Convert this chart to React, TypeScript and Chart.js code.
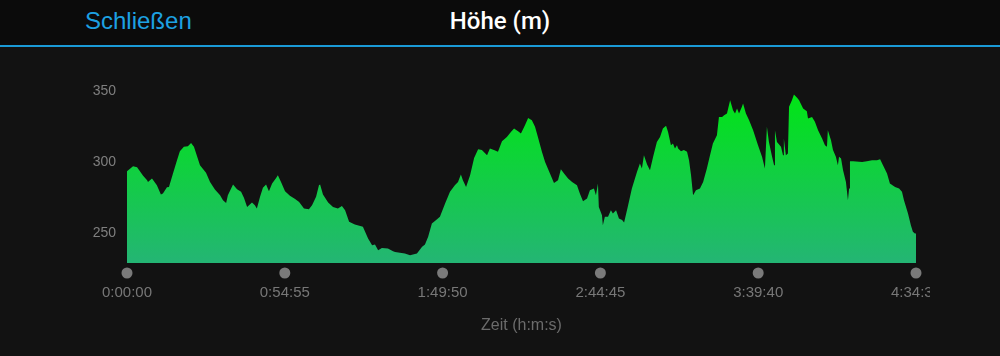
import React, { useEffect, useRef } from "react";
import { Chart, registerables } from "chart.js";

Chart.register(...registerables);

// time in minutes since start
const timeMin = [
  0, 2.1, 3.5, 4.5, 5.6, 7.0, 7.3, 8.7, 10.4, 11.8, 12.5, 13.9, 14.6, 16.0, 17.4, 18.4, 19.8, 21.2, 22.3, 23.3,
  25.4, 27.5, 28.9, 30.6, 32.4, 33.4, 34.5, 35.1, 36.9, 38.3, 39.7, 40.7, 41.8, 43.5, 44.5, 45.2, 46.3, 47.3, 48.4, 49.4,
  50.5, 51.9, 52.5, 53.6, 55.0, 56.7, 58.5, 59.9, 61.6, 63.3, 64.4, 65.8, 66.8, 67.2, 68.2, 70.0, 71.7, 73.4, 74.8, 75.9,
  77.3, 79.3, 82.1, 83.9, 85.3, 86.3, 87.4, 88.7, 90.8, 92.6, 93.3, 95.0, 96.7, 98.5, 100.9, 102.7, 103.7, 104.8, 106.1, 107.9,
  108.9, 110.7, 112.4, 114.1, 115.2, 116.2, 116.9, 118.0, 119.4, 120.8, 122.2, 123.5, 125.3, 126.3, 127.7, 129.1, 130.5, 132.2, 133.6, 134.7,
  136.1, 137.1, 138.5, 139.6, 140.9, 142.0, 143.0, 144.4, 145.5, 147.2, 148.6, 150.0, 151.0, 152.1, 153.5, 154.9, 156.6, 157.6, 158.7, 160.1,
  161.1, 162.5, 163.2, 163.9, 164.2, 165.3, 165.6, 166.3, 167.4, 168.4, 169.1, 170.2, 171.2, 172.3, 173.0, 174.4, 175.7, 177.5, 178.5, 179.2,
  179.9, 181.0, 182.0, 183.1, 184.4, 185.5, 186.5, 187.6, 188.3, 189.3, 190.0, 190.7, 191.4, 191.8, 192.8, 193.8, 194.9, 195.6, 196.3, 197.0,
  198.0, 199.4, 200.5, 201.8, 202.9, 203.9, 205.3, 206.0, 207.1, 207.8, 208.8, 209.9, 210.9, 211.6, 212.3, 213.0, 214.0, 214.4, 215.4, 216.5,
  217.9, 219.6, 221.0, 222.0, 222.7, 223.4, 224.5, 225.2, 225.5, 226.2, 227.6, 228.3, 228.6, 229.3, 230.0, 230.4, 231.4, 232.1, 233.2, 233.9,
  235.3, 236.6, 237.0, 238.4, 239.4, 240.5, 241.9, 242.9, 243.6, 243.9, 245.0, 245.7, 246.7, 247.4, 247.8, 248.5, 249.2, 250.2, 250.9, 251.3,
  251.6, 252.7, 255.8, 257.5, 259.3, 261.0, 262.1, 263.1, 264.5, 265.5, 267.3, 268.7, 269.7, 270.4, 271.8, 272.8, 273.5, 274.2, 274.58,
];

// elevation in metres
const elevation = [
  293.7, 297.2, 296.5, 293.7, 290.4, 287.3, 286.0, 288.5, 283.8, 277.3, 278.0, 282.4, 282.6, 292.0, 301.4, 307.7, 310.8, 311.3, 313.6, 310.8,
  297.9, 292.5, 286.1, 280.8, 276.8, 273.2, 271.3, 276.8, 284.3, 281.0, 279.1, 274.9, 268.5, 271.6, 269.7, 267.4, 275.6, 282.0, 284.3, 279.6,
  285.0, 288.9, 290.8, 286.1, 279.6, 276.3, 274.0, 272.0, 267.4, 266.9, 269.7, 275.6, 283.8, 284.3, 277.3, 271.6, 268.5, 267.4, 269.2, 266.2,
  258.0, 256.1, 254.5, 246.3, 241.5, 242.0, 238.0, 239.6, 239.2, 237.3, 236.8, 236.3, 235.7, 234.5, 235.7, 240.4, 242.0, 247.4, 256.8, 259.9,
  261.5, 270.9, 279.1, 283.8, 286.1, 291.3, 287.3, 282.6, 290.8, 303.0, 309.2, 308.5, 304.9, 309.6, 308.5, 307.3, 314.8, 317.8, 321.3, 323.7,
  321.8, 320.2, 326.1, 331.2, 329.6, 324.9, 317.8, 307.3, 300.2, 292.0, 285.4, 287.3, 295.1, 292.0, 288.5, 286.1, 283.8, 278.0, 272.5, 274.5,
  280.3, 281.5, 276.8, 285.0, 268.5, 262.7, 255.6, 261.5, 261.5, 266.2, 263.9, 266.2, 260.4, 259.2, 257.5, 269.7, 281.5, 293.2, 299.1, 295.6,
  304.9, 298.4, 294.4, 303.8, 314.3, 317.8, 323.7, 325.6, 321.3, 312.0, 313.2, 309.6, 312.0, 309.6, 307.7, 308.5, 307.3, 301.4, 290.8, 276.8,
  280.3, 281.5, 286.1, 295.6, 304.9, 313.2, 319.0, 331.9, 331.9, 333.1, 334.3, 343.7, 336.6, 334.3, 337.8, 334.3, 339.0, 341.3, 334.3, 329.6,
  322.5, 312.0, 303.8, 295.6, 324.9, 314.3, 303.8, 297.9, 322.5, 314.3, 310.8, 304.9, 316.7, 304.9, 306.2, 339.0, 343.7, 347.7, 345.3, 343.7,
  337.8, 335.9, 330.8, 331.9, 328.4, 322.5, 316.7, 312.0, 310.8, 322.5, 315.5, 308.5, 303.8, 297.9, 303.8, 302.6, 294.4, 286.1, 273.2, 281.5,
  300.7, 300.7, 300.2, 300.7, 301.4, 301.4, 302.1, 297.9, 292.0, 285.0, 282.6, 281.5, 279.1, 273.2, 263.9, 255.6, 251.0, 249.8, 249.8,
];

const xTickValues = [0, 54.9167, 109.8333, 164.75, 219.6667, 274.5833];
const xTickLabels = ["0:00:00", "0:54:55", "1:49:50", "2:44:45", "3:39:40", "4:34:35"];
const yTickValues = [250, 300, 350];
const yMin = 229;
const yMax = 360;

const dotsPlugin = {
  id: "tickDots",
  afterDraw(chart: any) {
    const xs = chart.scales.x;
    const ctx = chart.ctx;
    const y = chart.chartArea.bottom + 10;
    ctx.save();
    ctx.fillStyle = "#7a7a7a";
    xTickValues.forEach((v) => {
      ctx.beginPath();
      ctx.arc(xs.getPixelForValue(v), y, 5.5, 0, Math.PI * 2);
      ctx.fill();
    });
    ctx.restore();
  },
};

export default function App() {
  const ref = useRef<HTMLCanvasElement>(null);

  useEffect(() => {
    if (!ref.current) return;
    const chart = new Chart(ref.current, {
      type: "line",
      data: {
        datasets: [
          {
            data: timeMin.map((t, i) => ({ x: t, y: elevation[i] })),
            borderWidth: 0,
            pointRadius: 0,
            tension: 0,
            fill: "start",
            backgroundColor: (c: any) => {
              const area = c.chart.chartArea;
              if (!area) return "#1ec860";
              const g = c.chart.ctx.createLinearGradient(0, area.top + 15, 0, area.bottom);
              g.addColorStop(0, "#00e614");
              g.addColorStop(1, "#24b574");
              return g;
            },
          },
        ],
      },
      options: {
        animation: false,
        responsive: false,
        maintainAspectRatio: false,
        events: [],
        layout: { padding: { left: 0, top: 30, right: 14, bottom: 0 } },
        plugins: { legend: { display: false }, tooltip: { enabled: false } },
        scales: {
          x: {
            type: "linear",
            min: 0,
            max: xTickValues[xTickValues.length - 1],
            grid: { display: false, drawTicks: false },
            border: { display: false },
            afterBuildTicks: (s: any) => {
              s.ticks = xTickValues.map((v) => ({ value: v }));
            },
            afterFit: (s: any) => {
              s.height = 93;
              s.paddingLeft = 0;
              s.paddingRight = 0;
            },
            ticks: {
              autoSkip: false,
              maxRotation: 0,
              padding: 21,
              color: "#777777",
              font: { family: "'Liberation Sans', Arial, sans-serif", size: 15 },
              callback: (_v: any, i: number) => xTickLabels[i],
            },
            title: {
              display: true,
              text: "Zeit (h:m:s)",
              color: "#6b6b6b",
              font: { family: "'Liberation Sans', Arial, sans-serif", size: 16 },
              padding: { top: 4, bottom: 21 },
            },
          },
          y: {
            min: yMin,
            max: yMax,
            grid: { display: false, drawTicks: false },
            border: { display: false },
            afterBuildTicks: (s: any) => {
              s.ticks = yTickValues.map((v) => ({ value: v }));
            },
            afterFit: (s: any) => {
              s.width = 127;
              s.paddingTop = 0;
              s.paddingBottom = 0;
            },
            ticks: {
              padding: 11,
              color: "#7f7f7f",
              font: { family: "'Liberation Sans', Arial, sans-serif", size: 14 },
            },
          },
        },
      },
      plugins: [dotsPlugin],
    } as any);
    return () => chart.destroy();
  }, []);

  return (
    <div
      style={{
        position: "fixed",
        left: 0,
        top: 0,
        width: 1000,
        height: 356,
        background: "#121212",
        overflow: "hidden",
        fontFamily: "'Liberation Sans', Arial, sans-serif",
      }}
    >
      <div
        style={{
          position: "absolute",
          left: 0,
          top: 0,
          width: 1000,
          height: 45,
          background: "#0b0b0b",
          borderBottom: "2px solid #1a9ad6",
        }}
      >
        <span
          style={{
            position: "absolute",
            left: 85,
            top: 9,
            fontSize: 24,
            lineHeight: "24px",
            color: "#1da1e2",
          }}
        >
          Schließen
        </span>
        <div
          style={{
            position: "absolute",
            left: 0,
            top: 9,
            width: 1000,
            textAlign: "center",
            fontFamily: "Roboto, 'Liberation Sans', sans-serif",
            fontSize: 24,
            lineHeight: "24px",
            color: "#ffffff",
            fontWeight: 500,
          }}
        >
          Höhe (m)
        </div>
      </div>
      <canvas
        ref={ref}
        width={930}
        height={309}
        style={{ position: "absolute", left: 0, top: 47, width: 930, height: 309 }}
      />
    </div>
  );
}
